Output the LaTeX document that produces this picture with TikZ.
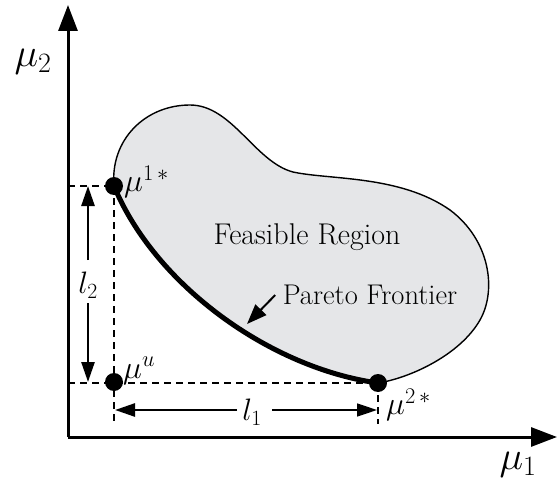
\RequirePackage{fix-cm}
\documentclass[tikz,border=0pt]{standalone}
\usetikzlibrary{arrows.meta}
\tikzset{
  axisline/.style={line width=3pt,-{Triangle[length=26pt,width=19pt]}},
  dash line/.style={line width=1.2pt,dash pattern=on 7pt off 5pt},
  dim arrow/.style={line width=2.6pt,-{Triangle[length=20pt,width=13pt]}},
  dim arrow thin/.style={line width=1.6pt,-{Triangle[length=20pt,width=13pt]}},
  ptdot/.style={circle,fill=black,inner sep=0pt,minimum size=18pt},
  bigtext/.style={font=\fontsize{31}{34}\selectfont},
  axlabel/.style={font=\fontsize{40}{44}\selectfont},
  ptlabel/.style={font=\fontsize{32}{36}\selectfont,inner sep=0pt},
}
\begin{document}
\begin{tikzpicture}[x=1pt,y=-1pt]
\useasboundingbox (0,0) rectangle (557,492);
% key points
\coordinate (O) at (68,437);
\coordinate (ytip) at (68,5);
\coordinate (xtip) at (557,437);
\coordinate (p1) at (114,186);
\coordinate (pu) at (114,382);
\coordinate (p2) at (378,383);
% feasible region
\fill[fill={rgb,255:red,229;green,230;blue,232}]
  (p1) .. controls (110,140) and (145,105) .. (190,105)
  .. controls (232,105) and (255,162) .. (293,172)
  .. controls (330,180) and (400,175) .. (450,210)
  .. controls (490,240) and (497,290) .. (480,320)
  .. controls (460,355) and (410,378) .. (p2)
  .. controls (270,368) and (155,285) .. (p1) -- cycle;
\draw[line width=1.4pt]
  (p1) .. controls (110,140) and (145,105) .. (190,105)
  .. controls (232,105) and (255,162) .. (293,172)
  .. controls (330,180) and (400,175) .. (450,210)
  .. controls (490,240) and (497,290) .. (480,320)
  .. controls (460,355) and (410,378) .. (p2);
% Pareto frontier
\draw[line width=5pt] (p1) .. controls (155,285) and (270,368) .. (p2);
% dashed guides
\coordinate (yl1) at (68,186);
\coordinate (yl2) at (68,383);
\coordinate (vd1) at (114,424);
\coordinate (vd2) at (378,424);
\draw[dash line] (yl1) -- (p1);
\draw[dash line] (yl2) -- (p2);
\draw[dash line] (p1) -- (vd1);
\draw[dash line] (p2) -- (vd2);
% axes
\draw[axisline] (O) -- (ytip);
\draw[axisline] (O) -- (xtip);
\node[axlabel] (m2) at (33,62) {$\mu_2$};
\node[axlabel] (m1) at (518,465) {$\mu_1$};
% dots
\node[ptdot] (d1) at (p1) {};
\node[ptdot] (du) at (pu) {};
\node[ptdot] (d2) at (p2) {};
\node[ptlabel,anchor=west] (l1s) at (124,182) {$\mu^{1\,*}$};
\node[ptlabel,anchor=west] (lus) at (123,371) {$\mu^{u}$};
\node[ptlabel,anchor=west] (l2s) at (386,405) {$\mu^{2\,*}$};
% l2 dimension
\node[bigtext] (l2) at (88,285) {$l_2$};
\coordinate (l2top) at (88,186);
\coordinate (l2bot) at (88,382);
\draw[dim arrow] (88,260) -- (l2top);
\draw[dim arrow] (88,303) -- (l2bot);
% l1 dimension
\node[bigtext] (l1) at (252,412) {$l_1$};
\coordinate (l1left) at (115,410);
\coordinate (l1right) at (377,410);
\draw[dim arrow] (237,410) -- (l1left);
\draw[dim arrow thin] (272,410) -- (l1right);
% texts
\node[font=\fontsize{30}{33}\selectfont] (fr) at (307,237) {Feasible Region};
\node[font=\fontsize{28.5}{31}\selectfont] (pf) at (370,295) {Pareto Frontier};
\coordinate (pftip) at (247,324);
\draw[line width=2pt,-{Triangle[length=20pt,width=15pt]}] (pf.west) ++(-4,0) -- (pftip);
\end{tikzpicture}
\end{document}
